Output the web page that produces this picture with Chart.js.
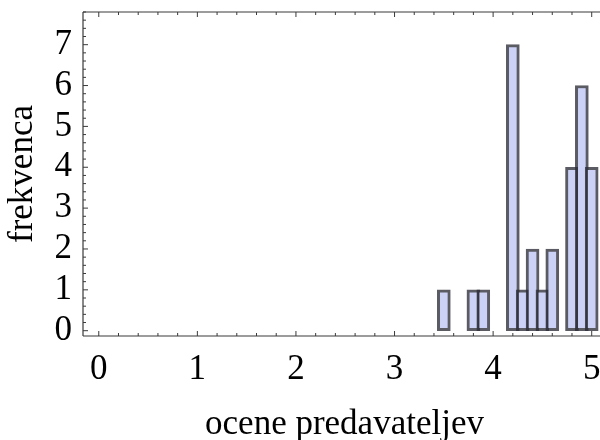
<!DOCTYPE html>
<html>
<head>
<meta charset="utf-8">
<script src="https://cdn.jsdelivr.net/npm/chart.js@4/dist/chart.umd.min.js"></script>
<style>
  html, body { margin: 0; padding: 0; background: #fff; overflow: hidden; }
  canvas { display: block; }
</style>
</head>
<body>
<canvas id="histChart" width="606" height="440"></canvas>
<script>
/* ---------- data ---------- */
const scores = [3.5, 3.8, 3.9, 4.2, 4.3, 4.4, 4.5, 4.6, 4.8, 4.9, 5.0];
const counts = [1, 1, 1, 7, 1, 2, 1, 2, 4, 6, 4];
const xTickValues = [0, 1, 2, 3, 4, 5];
const yTickValues = [0, 1, 2, 3, 4, 5, 6, 7];

const xTitle = "ocene predavateljev";
const yTitle = "frekvenca";

/* ---------- helpers ---------- */
const FONT = "'Liberation Serif', 'DejaVu Serif', serif";
const FRAME = "#3a3a3a";

function setTicks(values) {
  return scale => { scale.ticks = values.map(v => ({ value: v })); };
}

// fixed axis box size, no extra room reserved for end labels
function fixSize(prop, size) {
  return s => {
    s[prop] = size;
    s.paddingTop = s.paddingBottom = s.paddingLeft = s.paddingRight = 0;
  };
}

// frame lines plus inward major/minor ticks (0.2 step) on every drawn side
const frameTicks = {
  id: "frameTicks",
  afterDatasetsDraw(chart) {
    const { ctx, chartArea: a, scales: { x, y } } = chart;
    ctx.save();
    ctx.strokeStyle = FRAME;
    ctx.lineWidth = 1.2;

    ctx.beginPath();
    ctx.moveTo(a.left, a.top); ctx.lineTo(a.right, a.top);
    ctx.moveTo(a.left, a.top); ctx.lineTo(a.left, a.bottom);
    ctx.moveTo(a.left, a.bottom); ctx.lineTo(a.right, a.bottom);
    ctx.stroke();

    ctx.lineWidth = 1;
    ctx.beginPath();
    for (let i = 0; i <= 26; i++) {
      const px = x.getPixelForValue(i / 5);
      if (px < a.left || px > a.right) continue;
      const len = i % 5 === 0 ? 5 : 3;
      ctx.moveTo(px, a.bottom); ctx.lineTo(px, a.bottom - len);
      ctx.moveTo(px, a.top); ctx.lineTo(px, a.top + len);
    }
    for (let i = 0; i <= 39; i++) {
      const py = y.getPixelForValue(i / 5);
      if (py < a.top || py > a.bottom) continue;
      const len = i % 5 === 0 ? 5 : 3;
      ctx.moveTo(a.left, py); ctx.lineTo(a.left + len, py);
    }
    ctx.stroke();
    ctx.restore();
  }
};

/* ---------- chart ---------- */
new Chart(document.getElementById("histChart"), {
  type: "bar",
  data: {
    datasets: [{
      data: scores.map((s, i) => ({ x: s, y: counts[i] })),
      backgroundColor: "rgb(204, 209, 246)",
      borderColor: "rgba(45, 45, 55, 0.78)",
      borderWidth: 3,
      borderSkipped: false,
      barThickness: 13
    }]
  },
  options: {
    responsive: false,
    animation: false,
    layout: { padding: { top: 12, right: 0, bottom: 0, left: 0 } },
    plugins: {
      legend: { display: false },
      tooltip: { enabled: false }
    },
    scales: {
      x: {
        type: "linear",
        offset: false,
        min: -0.16,
        max: 5.145,
        afterBuildTicks: setTicks(xTickValues),
        afterFit: fixSize("height", 104),
        grid: { display: false, drawTicks: false },
        border: { display: false },
        ticks: {
          autoSkip: false,
          maxRotation: 0,
          padding: 13,
          color: "#000",
          font: { family: FONT, size: 35 }
        },
        title: {
          display: true,
          text: xTitle,
          color: "#000",
          font: { family: FONT, size: 35, lineHeight: 0.8 },
          padding: { top: 0, bottom: 1 }
        }
      },
      y: {
        type: "linear",
        min: -0.13,
        max: 7.8,
        afterBuildTicks: setTicks(yTickValues),
        afterFit: fixSize("width", 83),
        grid: { display: false, drawTicks: false },
        border: { display: false },
        ticks: {
          autoSkip: false,
          padding: 11,
          color: "#000",
          font: { family: FONT, size: 35 }
        },
        title: {
          display: true,
          text: yTitle,
          color: "#000",
          font: { family: FONT, size: 35, lineHeight: 1 },
          padding: { top: 5, bottom: 0 }
        }
      }
    }
  },
  plugins: [frameTicks]
});
</script>
</body>
</html>
